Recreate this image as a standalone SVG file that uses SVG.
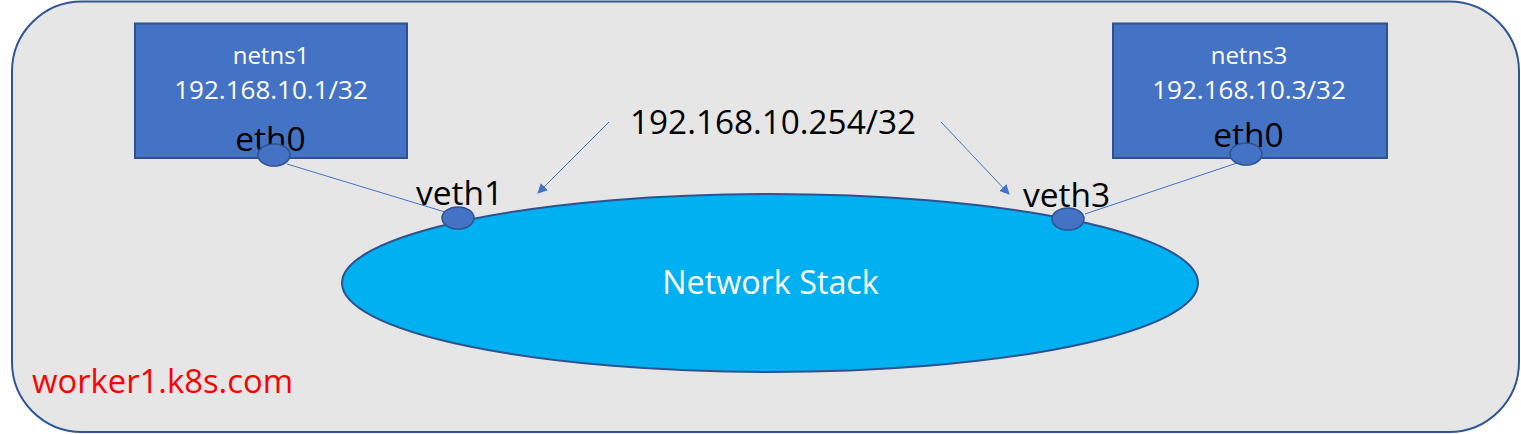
<svg xmlns="http://www.w3.org/2000/svg" width="1521" height="434" viewBox="0 0 1521 434">
<style>
text{font-family:"Open Sans","Noto Sans","Liberation Sans",sans-serif}
.ns{fill:#4472C4;stroke:#2F528F;stroke-width:2}
.port{fill:#4472C4;stroke:#2F528F;stroke-width:1.5}
.wt{fill:#FFFFFF;text-anchor:middle}
.bk{fill:#000000;text-anchor:middle}
.lbl{font-size:33.5px}
.ln{stroke:#4472C4;stroke-width:1;fill:none}
</style>
<defs>
<marker id="ah" viewBox="0 0 10 10" refX="9" refY="5" markerWidth="10" markerHeight="10" markerUnits="userSpaceOnUse" orient="auto">
<path d="M0,0 L10,5 L0,10 z" fill="#4472C4"/>
</marker>
</defs>
<g id="host">
<rect x="12" y="1.5" width="1507" height="430.5" rx="70" ry="70" fill="#E7E6E6" stroke="#2F5597" stroke-width="2"/>
<text x="32" y="393" font-size="32.8" fill="#FF0000">worker1.k8s.com</text>
</g>
<g id="network-stack">
<ellipse cx="770" cy="283" rx="428" ry="89" fill="#00B0F0" stroke="#2F528F" stroke-width="2"/>
<text class="wt" x="770.5" y="294" font-size="32.3">Network Stack</text>
</g>
<g id="netns1">
<rect class="ns" x="135" y="23.5" width="272" height="134.5"/>
<text class="wt" x="271" y="64" font-size="24">netns1</text>
<text class="wt" x="271" y="99" font-size="26">192.168.10.1/32</text>
</g>
<g id="netns3">
<rect class="ns" x="1113" y="23.5" width="274" height="134.5"/>
<text class="wt" x="1249" y="64" font-size="24">netns3</text>
<text class="wt" x="1249" y="99" font-size="26">192.168.10.3/32</text>
</g>
<g id="gateway-label">
<text class="bk" x="773" y="134" font-size="33.3">192.168.10.254/32</text>
</g>
<g id="connectors">
<line class="ln" x1="287" y1="164" x2="445" y2="212"/>
<line class="ln" x1="1085" y1="214" x2="1237" y2="163"/>
<line class="ln" x1="609" y1="122" x2="538" y2="193" marker-end="url(#ah)"/>
<line class="ln" x1="941" y1="122" x2="1009" y2="194" marker-end="url(#ah)"/>
</g>
<g id="eth0-netns1">
<text class="bk lbl" x="270.5" y="151">eth0</text>
<ellipse class="port" cx="274" cy="155" rx="16" ry="11"/>
</g>
<g id="eth0-netns3">
<text class="bk lbl" x="1248.5" y="147">eth0</text>
<ellipse class="port" cx="1246" cy="154" rx="16" ry="11"/>
</g>
<g id="veth1">
<text class="bk lbl" x="459.5" y="205">veth1</text>
<ellipse class="port" cx="458" cy="218" rx="16" ry="11"/>
</g>
<g id="veth3">
<text class="bk lbl" x="1066.5" y="207">veth3</text>
<ellipse class="port" cx="1068" cy="219" rx="16" ry="11"/>
</g>
</svg>
